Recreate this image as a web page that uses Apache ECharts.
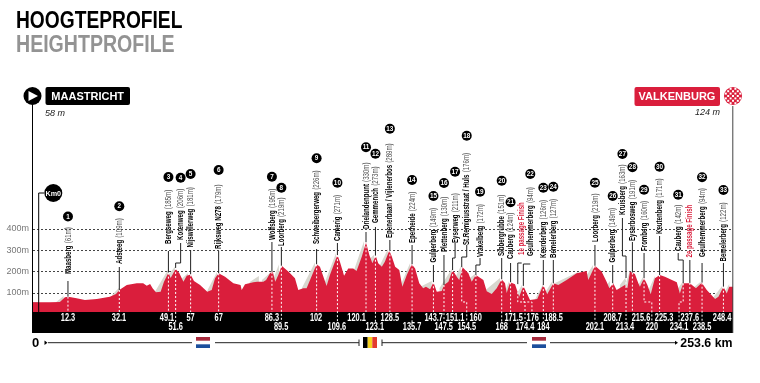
<!DOCTYPE html>
<html>
<head>
<meta charset="utf-8">
<style>html,body{margin:0;padding:0;background:#fff}#chart{width:760px;height:383px}</style>
<script src="https://cdn.jsdelivr.net/npm/echarts@6/dist/echarts.min.js"></script>
</head>
<body>
<div id="chart"></div>
<script>
// profile: km and metres
var profileKm = [0,1.8,6.1,9.7,11.5,12.7,15.7,18.7,23,27.7,29.9,31.1,33.8,37.4,39.7,41,42.2,43.1,44.3,46,47.2,48.8,49.6,51.4,
    52.7,54.2,55.4,56.8,58,60.2,62.8,64.4,65.6,66.9,69.2,72.2,74.8,75.2,76.4,79.4,80.8,81.5,83,84,85.4,86.4,87.3,88.4,89.6,92,94.4,95.6,97.4,98.6,100.1,102.2,
    103.4,105.8,107,109.7,110.6,112.1,113.6,115.4,116.6,118.5,120,121.2,122.3,123.5,124.4,125.7,126.8,128.4,129.3,130.5,132,133.1,134.7,136.5,137.7,139.2,140.6,141.6,143.1,144.3,145.5,147.3,148.1,149.7,151.2,
    152.7,153.6,154.8,156.9,158.1,159.6,162.3,163.5,165.3,167.1,168.9,170.1,170.7,171.9,173.7,175.2,176.7,179.1,181.7,183.9,185.3,187.5,189.3,192.3,195.9,199.5,200.1,202.5,
    204.9,206.7,207.7,209.1,210.3,213.3,214.2,215.1,216.9,218.1,218.7,220.2,221.4,222.6,224.1,225.9,227.7,232,233.1,234.3,236.7,238.9,241,242.8,245.8,247,248.8,250,250.9,252.25];
var profileM = [57,57,57,58,80,83,75,67,72,83,95,114,137,145,145,134,142,122,103,106,153,195,170,212,
    193,153,181,187,156,137,106,114,169,192,176,145,137,114,141,150,153,145,153,161,192,200,153,184,227,200,169,114,122,122,169,234,
    223,133,184,277,246,181,215,215,203,270,337,277,239,274,239,223,246,299,270,223,207,129,184,234,215,145,122,129,117,150,106,109,137,153,207,
    176,161,220,192,153,184,161,108,95,122,164,145,100,150,141,83,133,67,72,137,94,145,137,161,192,203,161,227,
    200,153,122,145,114,137,122,200,189,147,129,169,137,94,169,184,176,150,98,145,145,122,148,114,72,83,129,98,129,129];

// grey hillside shading on the climbs
var shadeFootKm = [8.4,28.5,43.9,48.8,53.1,62.9,78.1,82.5,86.3,96.9,104.8,115.7,120.1,124.7,132.2,139.4,146.5,151.7,156.4,161.8,169.9,173.9,181,184.2,188.1,198.5,205.8,211.5,213.1,217.7,221.2,231.3,237.8,244.7,249];
var shadeFootM = [58,91,105,184,161,114,151,161,156,123,137,207,245,221,128,128,123,161,161,100,100,86,72,95,147,161,123,137,123,128,95,100,123,72,100];
var shadeTopKm = [11,31,48.6,51.2,55.9,66.3,81.4,86.1,88.6,101.6,109.2,119.3,122.9,127.9,135.9,143.7,150.9,154.2,159.3,168.3,171.5,176.2,183.8,187,196.4,201.8,207.9,213.7,215.1,219.8,224.1,234.1,240.6,248.3,250.9];
var shadeTopM = [86,124,208,224,194,198,180,202,233,242,287,343,279,306,240,156,212,226,189,170,156,138,142,152,198,231,156,175,204,175,180,152,153,133,142];

// climbs, in race order (the two finish passages have no number)
var climbNums = ['1','2','3','4','5','6','7','8','9','10','11','12','13','14','15','16','17','18','19','20','21','','22','23','24','25','26','27','28','29','30','31','','32','33'];
var climbNames = ['Maasberg','Adsteeg','Bergseweg','Korenweg','Nijswillerweg','Rijksweg N278','Wolfsberg','Loorberg','Schweibergerweg','Camerig','Drielandenpunt','Gemmenich','Epenerbaan / Vijlenerbos','Eperheide','Gulperberg','Plettenberg','Eyserweg','St.Remigiusstraat / Huls','Vrakelberg','Sibbergrubbe','Cauberg','1e passage Finish','Geulhemmerberg','Keerderberg','Bemelerberg','Loorberg','Gulperberg','Kruisberg','Eyserbosweg','Fromberg','Keutenberg','Cauberg','2e passage Finish','Geulhemmerberg','Bemelerberg'];
var climbHeights = ['(61m)','(109m)','(185m)','(206m)','(181m)','(179m)','(195m)','(219m)','(226m)','(271m)','(330m)','(273m)','(289m)','(224m)','(149m)','(130m)','(211m)','(176m)','(172m)','(151m)','(124m)','','(94m)','(126m)','(127m)','(219m)','(149m)','(163m)','(191m)','(160m)','(171m)','(142m)','','(94m)','(122m)'];
var kmLabels = ['12.3','32.1','49.1','51.6','57','67','86.3','89.5','102','109.6','120.1','123.1','128.5','135.7','143.7','147.5','151.1','154.5','160','168','171.5','174.4','176','184','188.5','202.1','208.7','213.4','215.6','220','225.3','234.1','237.6','238.5','248.4'];
var peakKm = [12.6,31.1,48.8,51.4,56.8,66.9,86.1,89.5,102.2,109.7,120,123.4,128.6,136.6,144.3,148.1,151.2,154.5,159.6,168.9,172.1,174.7,176.7,183.9,187.5,202.5,208.9,213.7,216,220.2,225.8,234.3,236.7,241.1,248.8];
var peakM = [83,114,195,217,187,192,199,227,234,277,337,274,299,234,150,137,207,220,184,164,150,141,133,137,145,227,145,170,195,169,184,145,147,148,129];

// annotation layout: where each label sits on the axis and on the page
var stemKm = [12.6,31.1,48.8,53.2,56.8,66.9,86.1,89.5,102.2,109.7,120,123.4,128.6,136.6,144.3,148.1,152.1,156.3,161.1,168.9,172.1,176.1,179.2,183.9,187.5,202.5,208.9,212.4,216,220.2,225.8,232.5,236.7,241.1,248.8];
var dashEndKm = [12.6,31.1,48.8,51.4,56.8,66.9,86.1,89.5,102.2,109.7,120,123.4,128.6,136.6,144.3,148.1,151.2,156.3,159.6,168.9,172.1,177.3,179.8,183.9,187.5,202.5,208.9,213.7,216,223,225.8,232.8,236.7,241.1,248.8];
var kmLabelAt = [12.6,31,48.3,51.4,56.8,66.9,86.1,89.4,102,109.5,116.6,123.2,128.6,136.6,144.4,148,152.1,156.3,159.5,168.9,173.2,177.3,180.1,183.9,187.6,202.5,208.9,213.3,219.1,223,227.4,232.8,236.7,241.1,248.3];
var kmLabelRow = [0,0,0,1,0,0,0,1,0,1,0,1,0,1,0,1,0,1,0,1,0,1,0,1,0,1,0,1,0,1,0,1,0,1,0];
var labelBaseY = [274,264,244,240,247.5,249,240,246,244,241,229,223,238,243,262.5,252,243,245,257,256,259,255,256,258,258,242,262.5,215,241,251,234,251,257.5,257,261.5];
var stemTopY = [281,267,251,243,250,251,242,247,249,243,232,227,240,245,265,255,243,245,258,258,263,263,264,260,260,245,265,218,242,253,236,253,260,263,263];
var elbowY = [0,0,0,263,0,0,0,0,0,0,0,0,0,0,0,0,258,257,265,0,0,263,264,0,0,0,0,256,0,0,0,260,0,0,0];
var numberY = [216.5,206.3,177,177.7,174,170,176.7,187.7,158.3,182.7,147.3,153.7,128.7,180,196,183,171.7,135.7,191.7,180.7,202.3,0,174,187.7,186.7,182.7,196,154,167.3,189.7,166.7,194.7,0,177.3,190];

var RED = '#da1e3c';
var SANS = '"Liberation Sans",sans-serif';
var BAND_TOP = 312, BAND_BOTTOM = 333, DASH_ELBOW_M = 58;

var chart = echarts.init(document.getElementById('chart'));

function renderClimb(params, api) {
    var i = api.value(0);
    var color = climbNums[i] ? '#000' : RED;
    var stemX = api.coord([stemKm[i], 0])[0];
    var peak = api.coord([peakKm[i], peakM[i]]);
    var endX = api.coord([dashEndKm[i], 0])[0];
    var elbow = api.coord([0, DASH_ELBOW_M])[1];
    var kids = [];

    // stem from the label down to the profile
    var pts = [[stemX, stemTopY[i]]];
    if (elbowY[i]) { pts.push([stemX, elbowY[i]], [peak[0], elbowY[i]]); }
    pts.push(peak);
    kids.push({ type: 'polyline', shape: { points: pts }, style: { stroke: '#222', lineWidth: 1, fill: null } });

    // white dashes down through the hill into the band
    var low = BAND_TOP + (kmLabelRow[i] ? 10 : 0);
    var dash = [peak];
    if (Math.abs(endX - peak[0]) > 1) { dash.push([peak[0], elbow], [endX, elbow]); }
    dash.push([endX, low]);
    kids.push({ type: 'polyline', shape: { points: dash }, style: { stroke: '#fff', lineWidth: 1, lineDash: [2, 2], fill: null } });

    // no condensed face is installed, so the names are squeezed horizontally
    kids.push({
        type: 'text', x: stemX, y: labelBaseY[i], rotation: Math.PI / 2, scaleX: 0.645,
        style: {
            text: '{n|' + climbNames[i] + '}' + (climbHeights[i] ? ' {h|' + climbHeights[i] + '}' : ''),
            align: 'left', verticalAlign: 'middle',
            rich: {
                n: { fontFamily: SANS, fontSize: 9.5, fontWeight: 'bold', fill: color },
                h: { fontFamily: SANS, fontSize: 9.5, fill: '#555' }
            }
        }
    });

    if (climbNums[i]) {
        kids.push({ type: 'circle', shape: { cx: stemX, cy: numberY[i], r: 5 }, style: { fill: '#000' } });
        kids.push({
            type: 'text', x: stemX, y: numberY[i], scaleX: 0.85,
            style: { text: climbNums[i], fill: '#fff', align: 'center', verticalAlign: 'middle', font: 'bold 7.5px ' + SANS }
        });
    }

    kids.push({
        type: 'text', x: api.coord([kmLabelAt[i], 0])[0], y: kmLabelRow[i] ? 327.5 : 318, scaleX: 0.74,
        style: { text: kmLabels[i], fill: '#fff', align: 'center', verticalAlign: 'middle', font: 'bold 10px ' + SANS }
    });
    return { type: 'group', children: kids };
}

// small page furniture: title, start/finish badges, flags, distance line
function rect(x, y, w, h, fill, r) {
    return { type: 'rect', z: 6, shape: { x: x, y: y, width: w, height: h, r: r || 0 }, style: { fill: fill } };
}
function line(x1, y1, x2, y2, stroke, width) {
    return { type: 'line', z: 6, shape: { x1: x1, y1: y1, x2: x2, y2: y2 }, style: { stroke: stroke || '#000', lineWidth: width || 1 } };
}
function text(x, y, str, font, fill, align, scaleX) {
    return { type: 'text', z: 7, x: x, y: y, scaleX: scaleX || 1, style: { text: str, font: font, fill: fill || '#000', align: align || 'left', verticalAlign: 'middle' } };
}

var deco = [
    text(16, 21.5, 'HOOGTEPROFIEL', 'bold 24px ' + SANS, '#000', 'left', 0.8),
    text(16, 45.5, 'HEIGHTPROFILE', 'bold 24px ' + SANS, '#939393', 'left', 0.815),

    // start
    line(32.5, 104, 32.5, BAND_TOP, '#000', 1),
    { type: 'circle', z: 6, shape: { cx: 32.5, cy: 96, r: 9 }, style: { fill: '#000' } },
    { type: 'polygon', z: 7, shape: { points: [[28.5, 91], [28.5, 101], [38, 96]] }, style: { fill: '#fff' } },
    rect(45.5, 87, 84.5, 18, '#000', 2),
    text(87.7, 96.5, 'MAASTRICHT', 'bold 11px ' + SANS, '#fff', 'center'),
    text(45, 113, '58 m', 'italic 9px ' + SANS, '#222'),

    // finish
    line(732.8, 106, 732.8, BAND_BOTTOM, '#444', 1),
    rect(634.5, 87, 85.5, 19, RED, 2),
    text(677, 96.5, 'VALKENBURG', 'bold 11px ' + SANS, '#fff', 'center'),
    text(720, 112.5, '124 m', 'italic 9px ' + SANS, '#222', 'right'),
    { type: 'circle', z: 6, shape: { cx: 733, cy: 96, r: 9 }, style: { fill: RED } },

    // km 0 marker
    { type: 'polyline', z: 6, shape: { points: [[44, 193], [38.7, 193], [38.7, BAND_TOP]] }, style: { stroke: '#000', lineWidth: 1, fill: null } },
    { type: 'circle', z: 6, shape: { cx: 53.3, cy: 193, r: 9 }, style: { fill: '#000' } },
    text(53.3, 193.5, 'Km0', 'bold 8px ' + SANS, '#fff', 'center', 0.9),

    // band under the profile
    { type: 'rect', z: 3, shape: { x: 32, y: BAND_TOP, width: 701, height: BAND_BOTTOM - BAND_TOP }, style: { fill: '#000' } },

    // distance line with the country flags
    text(32, 343, '0', 'bold 13px ' + SANS),
    { type: 'polygon', z: 6, shape: { points: [[44.5, 340.5], [44.5, 345], [47.5, 342.8]] }, style: { fill: '#000' } },
    line(48, 342.7, 192, 342.7, '#222'),
    rect(196, 337, 14, 3.7, '#a72a3c'), rect(196, 344.3, 14, 3.7, '#1c4f9c'),
    line(215, 342.7, 359, 342.7, '#222'), line(359, 339.5, 359, 346, '#222'),
    rect(363, 337, 4.7, 11, '#000'), rect(367.7, 337, 4.6, 11, '#f6d21f'), rect(372.3, 337, 4.7, 11, '#e33b2e'),
    line(382, 339.5, 382, 346, '#222'), line(382, 342.7, 527, 342.7, '#222'),
    rect(532, 337, 14, 3.7, '#a72a3c'), rect(532, 344.3, 14, 3.7, '#1c4f9c'),
    line(550, 342.7, 676, 342.7, '#222'),
    { type: 'polygon', z: 6, shape: { points: [[675, 340.7], [675, 344.7], [678, 342.7]] }, style: { fill: '#000' } },
    text(732.5, 343, '253.6 km', 'bold 13px ' + SANS, '#000', 'right', 0.95)
];

// white checks on the finish circle
for (var cx = -3; cx <= 3; cx++) {
    for (var cy = -3; cy <= 3; cy++) {
        if ((cx + cy) % 2 === 0 && cx * cx + cy * cy < 12) {
            var chk = rect(733 + cx * 2.4 - 1, 96 + cy * 2.4 - 1, 2, 2, '#fff');
            chk.z = 7;
            deco.push(chk);
        }
    }
}

var option = {
    animation: false,
    grid: { left: 33, top: 228.8, width: 700, height: 85.6 },
    xAxis: { type: 'value', min: 0, max: 252.25, show: false },
    yAxis: {
        type: 'value', min: 0, max: 400, interval: 100,
        axisLine: { show: false },
        axisTick: { show: false },
        axisLabel: {
            showMinLabel: false, margin: 4, fontSize: 9, color: '#777', fontFamily: SANS,
            formatter: '{value}m'
        },
        splitLine: { lineStyle: { color: '#444', type: [2, 2], width: 1 } }
    },
    graphic: { elements: deco },
    series: [
        {
            type: 'line', z: 1, silent: true, symbol: 'none',
            lineStyle: { width: 0 },
            areaStyle: { color: '#d8d7cf', opacity: 1 },
            data: shadeFootKm.flatMap(function (f, i) {
                return [[f, 0], [f, shadeFootM[i]], [shadeTopKm[i], shadeTopM[i]], [shadeTopKm[i], 0]];
            })
        },
        {
            type: 'line', z: 2, silent: true, symbol: 'none',
            lineStyle: { width: 0 },
            areaStyle: { color: RED, opacity: 1 },
            data: profileKm.map(function (k, i) { return [k, profileM[i]]; }),
            // grey block at the start of the profile
            markArea: {
                silent: true,
                itemStyle: { color: '#9c9c9c' },
                data: [[{ xAxis: 0, yAxis: 0 }, { xAxis: 2, yAxis: 57 }]]
            }
        },
        {
            type: 'custom', z: 5, silent: true, clip: false,
            coordinateSystem: 'cartesian2d',
            renderItem: renderClimb,
            encode: { x: 1, y: 2 },
            data: climbNames.map(function (n, i) { return [i, peakKm[i], peakM[i]]; })
        }
    ]
};

chart.setOption(option);
</script>
</body>
</html>
